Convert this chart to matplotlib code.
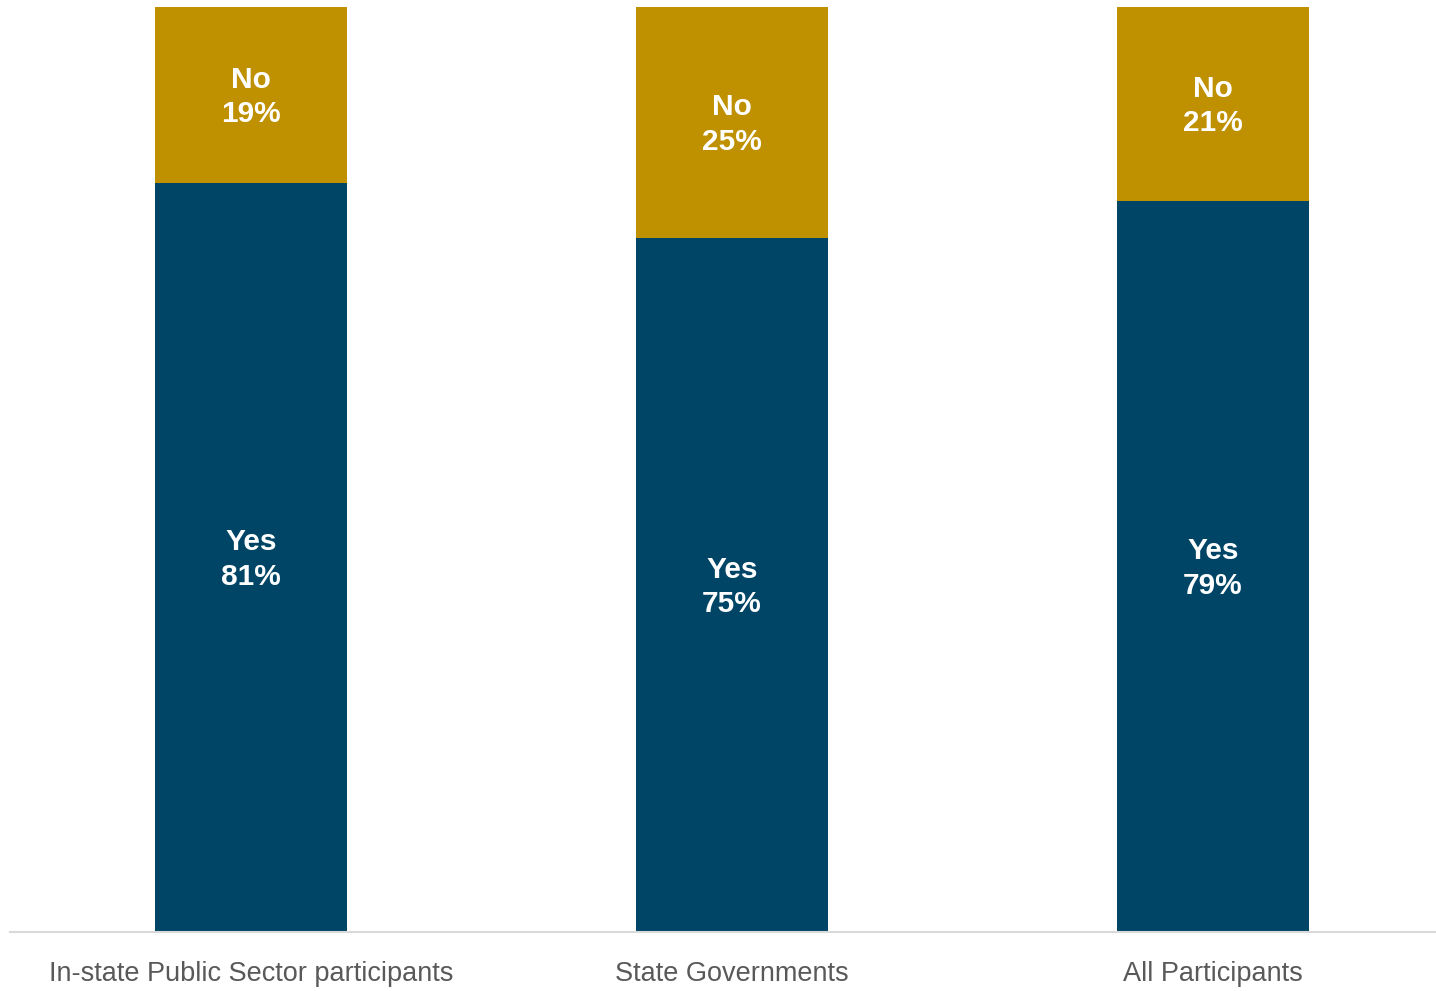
import matplotlib.pyplot as plt

# data
categories = ["In-state Public Sector participants", "State Governments", "All Participants"]
yes_pct = [81, 75, 79]
no_pct = [19, 25, 21]

blue = "#004466"
gold = "#BF9000"

fig = plt.figure(figsize=(14.36, 9.91), dpi=100)
ax = fig.add_axes([10 / 1436, 1 - 932 / 991, 1426 / 1436, 925 / 991])

x = range(len(categories))
ax.bar(x, yes_pct, width=0.4, color=blue)
ax.bar(x, no_pct, width=0.4, bottom=yes_pct, color=gold)

lbl = dict(ha="center", va="center", color="white", fontsize=21.5, fontweight="bold",
           family="Liberation Sans", linespacing=1.3, textcoords="offset pixels")
for i in x:
    ax.annotate("Yes\n%d%%" % yes_pct[i], (i, yes_pct[i] / 2), xytext=(0, -2), **lbl)
    ax.annotate("No\n%d%%" % no_pct[i], (i, yes_pct[i] + no_pct[i] / 2), xytext=(0, -2), **lbl)

ax.set_xlim(-0.501, 2.464)
ax.set_ylim(0, 100)
ax.set_xticks(list(x))
ax.set_xticklabels(categories, fontsize=19.5, color="#595959", family="Liberation Sans")
ax.tick_params(axis="x", length=0, pad=21)
ax.set_yticks([])
for side in ["left", "right", "top"]:
    ax.spines[side].set_visible(False)
ax.spines["bottom"].set_color("#D9D9D9")
ax.spines["bottom"].set_linewidth(1.5)

fig.savefig("out.png", dpi=100)
